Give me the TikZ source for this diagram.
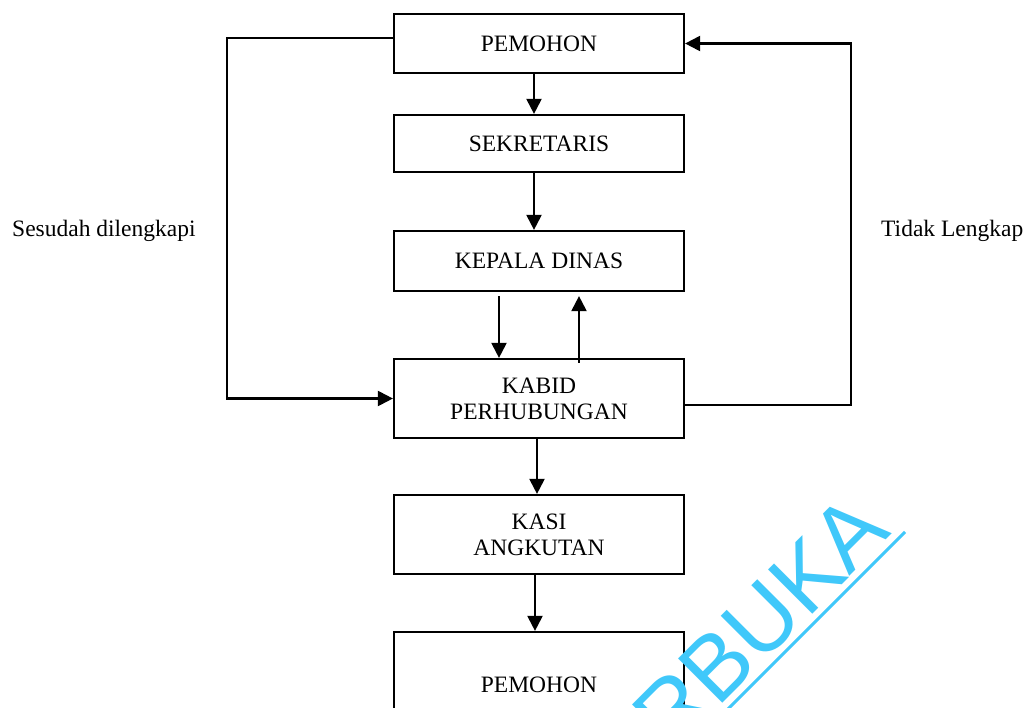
\documentclass[tikz,border=0pt]{standalone}
\usepackage{fontspec}
\setmainfont{Liberation Serif}
\newfontfamily\wmfont{Liberation Sans}
\usetikzlibrary{arrows.meta}
\definecolor{wmcyan}{RGB}{64,200,250}
\begin{document}
\begin{tikzpicture}[x=1pt,y=-1pt,
  box/.style={draw,line width=2.2pt,minimum width=290pt,align=center,inner sep=0pt,
    font=\fontsize{23.5}{28}\selectfont},
  lbl/.style={font=\fontsize{23.5}{28}\selectfont,inner sep=0pt},
  arr/.style={line width=2.1pt,-{Triangle[length=15pt,width=15pt]}}]
\useasboundingbox (0,0) rectangle (1027,707);
\clip (0,0) rectangle (1027,707);
\fill[white] (0,0) rectangle (1027,707);

% flow boxes
\node[box,minimum height=59pt] (p1) at (539,43.5) {PEMOHON};
\node[box,minimum height=57pt] (sek) at (539,143.5) {SEKRETARIS};
\node[box,minimum height=60pt] (kd) at (539,261) {KEPALA DINAS};
\node[box,minimum height=79pt] (kabid) at (539,398.5) {KABID\\[-2pt]PERHUBUNGAN};
\node[box,minimum height=79pt] (kasi) at (539,534.5) {KASI\\[-2pt]ANGKUTAN};
\node[box,minimum height=106pt] (p2) at (539,685) {PEMOHON};

% side labels
\node[lbl,anchor=west] (ls) at (12,231) {Sesudah dilengkapi};
\node[lbl,anchor=west] (lt) at (881,231) {Tidak Lengkap};

% vertical flow
\draw[arr] ([xshift=-5pt]p1.south) -- ([xshift=-5pt]sek.north);
\draw[arr] ([xshift=-5pt]sek.south) -- ([xshift=-5pt]kd.north);
\draw[arr] ([xshift=-40pt,yshift=-4pt]kd.south) -- ([xshift=-40pt]kabid.north);
\draw[arr] ([xshift=40pt,yshift=-5pt]kabid.north) -- ([xshift=40pt,yshift=-4pt]kd.south);
\draw[arr] ([xshift=-2pt]kabid.south) -- ([xshift=-2pt]kasi.north);
\draw[arr] ([xshift=-4pt]kasi.south) -- ([xshift=-4pt]p2.north);

% return loops
\coordinate (lt1) at (227,38);
\coordinate (lb1) at (227,398.5);
\draw[arr] ([yshift=5.5pt]p1.west) -- (lt1) -- (lb1) -- (kabid.west);
\coordinate (rb1) at (851,405);
\coordinate (rt1) at (851,43.5);
\draw[arr] ([yshift=-6.5pt]kabid.east) -- (rb1) -- (rt1) -- (p1.east);

% watermark
\node[wmcyan,anchor=base east,rotate=45,inner sep=0pt,
  font=\wmfont\fontsize{91}{91}\selectfont] (wm) at (893,533) {RBUKA};
\coordinate (u1) at (905,532);
\coordinate (u2) at (720,717);
\draw[wmcyan,line width=3pt] (u1) -- (u2);
\end{tikzpicture}
\end{document}
